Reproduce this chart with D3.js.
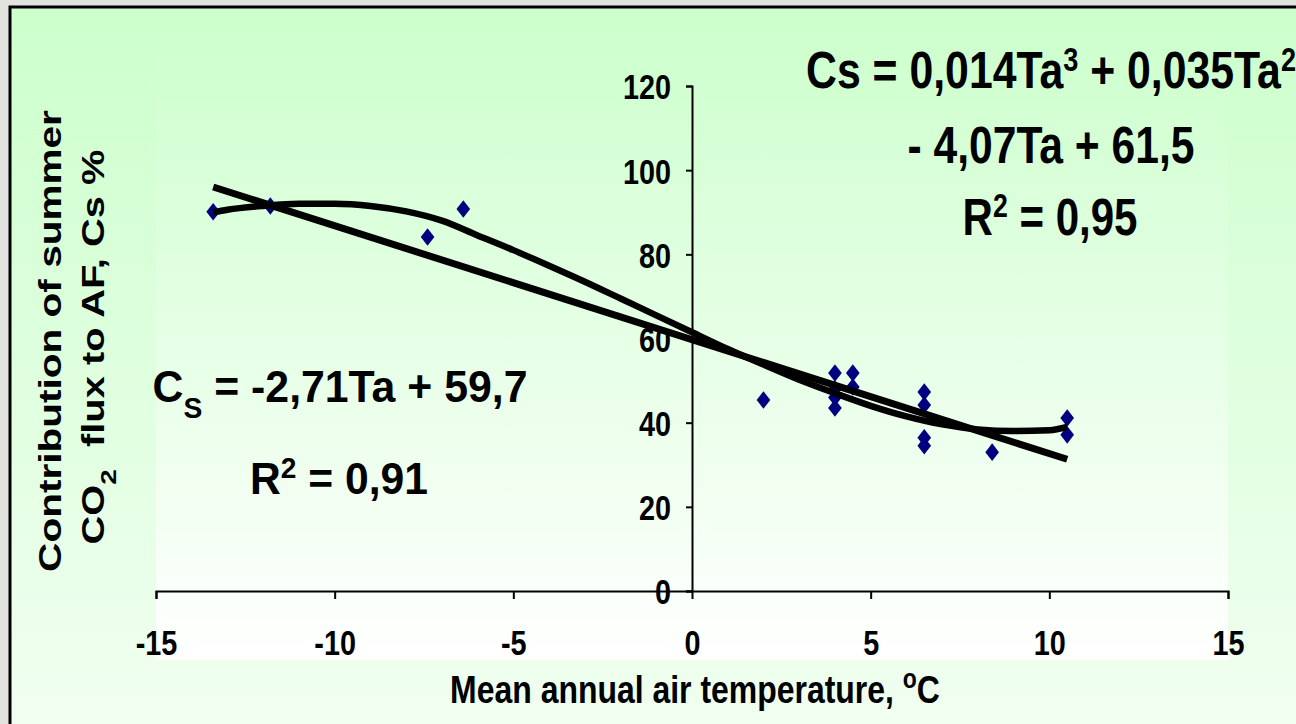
<!DOCTYPE html>
<html>
<head>
<meta charset="utf-8">
<script src="https://cdn.jsdelivr.net/npm/d3@7"></script>
<style>
  body { margin: 0; background: #e4e4e0; }
  svg text { font-family: "Liberation Sans", Arial, sans-serif; font-weight: bold; fill: #000; }
  .tick text { font-size: 36px; }
</style>
</head>
<body>
<svg id="chart" width="1296" height="724"></svg>
<script>
// observed sites: mean annual air temperature (C) and summer contribution Cs (%)
var tempX    = [-13.4, -11.8, -7.4, -6.4, 2.0, 4.0, 4.0, 4.0, 4.0, 4.5, 4.5, 6.5, 6.5, 6.5, 6.5, 8.4, 10.5, 10.5];
var contribY = [90.1, 91.5, 84.1, 90.8, 45.4, 51.8, 48.0, 46.0, 43.5, 51.8, 48.5, 47.3, 44.2, 36.4, 34.5, 33.0, 41.1, 37.1];

// linear trendline, ends as drawn
var linX = [-13.4, 10.5];
var linY = [96.0, 31.3];

// cubic trendline
var polyX = [-13.4, -13, -12, -11, -10, -9, -8, -7, -6, -5, -4, -3, -2, -1, 0, 1, 2, 3, 4, 5, 6, 7, 8, 9, 10, 10.5];
var polyY = [90.0, 90.6, 91.5, 92.0, 92.0, 91.5, 90.2, 88.0, 84.5, 81.0, 77.3, 73.5, 69.5, 65.5, 61.5, 57.5, 53.8, 50.2, 47.0, 44.0, 41.5, 39.6, 38.4, 38.0, 38.2, 39.0];

var xTicks = [-15, -10, -5, 0, 5, 10, 15];
var yTicks = [0, 20, 40, 60, 80, 100, 120];

var svg = d3.select("#chart");
var defs = svg.append("defs");

var bg = defs.append("linearGradient").attr("id", "bgGrad")
  .attr("x1", 0).attr("y1", 0).attr("x2", 0).attr("y2", 1);
bg.append("stop").attr("offset", "0%").attr("stop-color", "#ccffcc");
bg.append("stop").attr("offset", "100%").attr("stop-color", "#f2fff2");

var pg = defs.append("linearGradient").attr("id", "plotGrad")
  .attr("x1", 0).attr("y1", 0).attr("x2", 0).attr("y2", 1);
pg.append("stop").attr("offset", "0%").attr("stop-color", "#ccffcc");
pg.append("stop").attr("offset", "100%").attr("stop-color", "#ffffff");

// marble-ish surround, then the chart frame
svg.append("rect").attr("width", 1296).attr("height", 724).attr("fill", "#e2e2de");
svg.append("rect").attr("x", 10).attr("y", 7).attr("width", 1300).attr("height", 740)
  .attr("fill", "url(#bgGrad)").attr("stroke", "#000").attr("stroke-width", 3);
svg.append("rect").attr("x", 156).attr("y", 14).attr("width", 1072).attr("height", 646)
  .attr("fill", "url(#plotGrad)");

var x = d3.scaleLinear().domain([-15, 15]).range([156, 1228]);
var y = d3.scaleLinear().domain([0, 120]).range([591, 86]);

// text squeezed sideways to fit a measured width
function fitted(tx, ty, rot, w, size, sy, build) {
  var g = svg.append("g")
    .attr("transform", "translate(" + tx + "," + ty + ")" + (rot ? " rotate(" + rot + ")" : ""));
  var t = g.append("text").attr("text-anchor", "middle").style("font-size", size + "px");
  build(t);
  var nat = t.node().getComputedTextLength();
  t.attr("transform", "scale(" + (w / nat) + "," + (sy || 1) + ")");
  return t;
}

// y axis
var yAxis = svg.append("g")
  .attr("transform", "translate(" + x(0) + ",0)")
  .call(d3.axisLeft(y).tickValues(yTicks).tickSize(6).tickSizeOuter(6).tickPadding(15)
    .tickFormat(function(d) { return String(d); }));
yAxis.attr("font-family", null).attr("font-size", null);
yAxis.selectAll("path, line").attr("stroke", "#000").attr("stroke-width", 2);
yAxis.selectAll("text")
  .attr("x", 0).attr("dy", "0.36em")
  .attr("transform", "translate(-21,0) scale(0.8,1)");

// x axis
var xAxis = svg.append("g")
  .attr("transform", "translate(0," + y(0) + ")")
  .call(d3.axisBottom(x).tickValues(xTicks).tickSize(8).tickSizeOuter(8)
    .tickFormat(function(d) { return String(d); }));
xAxis.attr("font-family", null).attr("font-size", null);
xAxis.selectAll("path, line").attr("stroke", "#000").attr("stroke-width", 2);
xAxis.selectAll("text")
  .attr("y", 64).attr("dy", null)
  .attr("transform", "scale(0.8,1)");

// narrow diamond marker, like the squeezed Excel one
var narrowDiamond = {
  draw: function(ctx, size) {
    var h = Math.sqrt(size / 1.5), w = h * 0.78;
    ctx.moveTo(0, -h); ctx.lineTo(w, 0); ctx.lineTo(0, h); ctx.lineTo(-w, 0); ctx.closePath();
  }
};

// points
var pts = d3.range(tempX.length).map(function(i) { return [tempX[i], contribY[i]]; });
svg.append("g").selectAll("path.pt").data(pts).enter().append("path")
  .attr("class", "pt")
  .attr("transform", function(d) { return "translate(" + x(d[0]) + "," + y(d[1]) + ")"; })
  .attr("d", d3.symbol().type(narrowDiamond).size(115))
  .attr("fill", "#000080");

// trendlines
var line = d3.line()
  .x(function(d) { return x(d[0]); })
  .y(function(d) { return y(d[1]); });

svg.append("path")
  .datum(d3.range(polyX.length).map(function(i) { return [polyX[i], polyY[i]]; }))
  .attr("d", line.curve(d3.curveMonotoneX))
  .attr("fill", "none").attr("stroke", "#000").attr("stroke-width", 6.5).attr("stroke-linejoin", "round");

svg.append("path")
  .datum(d3.range(linX.length).map(function(i) { return [linX[i], linY[i]]; }))
  .attr("d", line.curve(d3.curveLinear))
  .attr("fill", "none").attr("stroke", "#000").attr("stroke-width", 7);

// axis titles
fitted(695, 703, 0, 490, 39, 1, function(t) {
  t.append("tspan").text("Mean annual air temperature, ");
  t.append("tspan").attr("baseline-shift", "super").style("font-size", "28px").text("o");
  t.append("tspan").text("C");
});
fitted(61, 341, -90, 462, 40, 0.78, function(t) {
  t.text("Contribution of summer");
});
fitted(104, 347, -90, 395, 40, 0.78, function(t) {
  t.append("tspan").text("CO");
  t.append("tspan").attr("baseline-shift", "sub").style("font-size", "28px").text("2");
  t.append("tspan").text("\u00a0 flux to AF, Cs %");
});

// linear fit label
fitted(340, 402, 0, 375, 44, 1, function(t) {
  t.append("tspan").text("C");
  t.append("tspan").attr("baseline-shift", "sub").style("font-size", "29px").text("S");
  t.append("tspan").text(" = -2,71Ta + 59,7");
});
fitted(339, 494, 0, 178, 44, 1, function(t) {
  t.append("tspan").text("R");
  t.append("tspan").attr("baseline-shift", "super").style("font-size", "29px").text("2");
  t.append("tspan").text(" = 0,91");
});

// cubic fit label
fitted(1051, 88, 0, 490, 52, 1, function(t) {
  t.append("tspan").text("Cs = 0,014Ta");
  t.append("tspan").attr("baseline-shift", "super").style("font-size", "33px").text("3");
  t.append("tspan").text(" + 0,035Ta");
  t.append("tspan").attr("baseline-shift", "super").style("font-size", "33px").text("2");
});
fitted(1051, 163, 0, 287, 52, 1, function(t) {
  t.text("- 4,07Ta + 61,5");
});
fitted(1050, 235, 0, 175, 52, 1, function(t) {
  t.append("tspan").text("R");
  t.append("tspan").attr("baseline-shift", "super").style("font-size", "33px").text("2");
  t.append("tspan").text(" = 0,95");
});
</script>
</body>
</html>
